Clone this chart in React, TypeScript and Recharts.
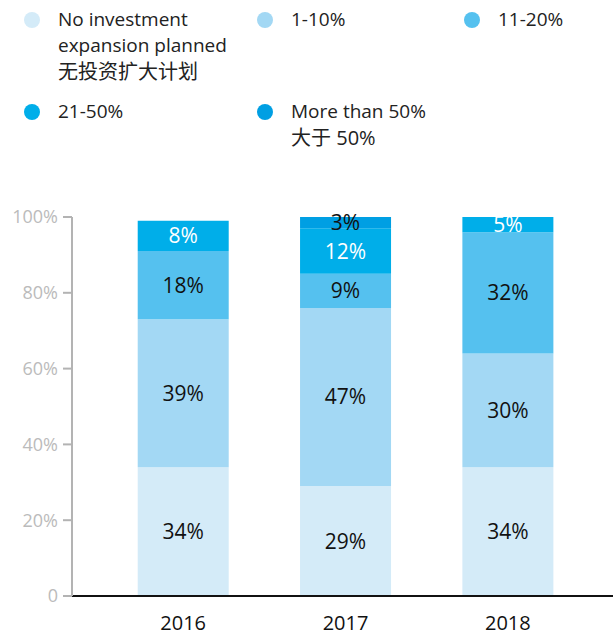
import { BarChart, Bar, XAxis, YAxis, LabelList } from "recharts";

const years = ["2016", "2017", "2018"];
const seriesKeys = ["none", "low", "mid", "high", "top"];
const seriesNames = [
  ["No investment", "expansion planned", "无投资扩大计划"],
  ["1-10%"],
  ["11-20%"],
  ["21-50%"],
  ["More than 50%", "大于 50%"],
];
const seriesColors = ["#d4ebf8", "#a3d8f4", "#55c1ef", "#00aee9", "#009fe3"];
const labelColors = ["#111", "#111", "#111", "#fff", "#111"];

const noneVals = [34, 29, 34];
const lowVals = [39, 47, 30];
const midVals = [18, 9, 32];
const highVals = [8, 12, 5];
const topVals = [0, 3, 0];

const yTicks = [0, 20, 40, 60, 80, 100];

const data = years.map((y, i) => ({
  year: y,
  none: noneVals[i],
  low: lowVals[i],
  mid: midVals[i],
  high: highVals[i],
  top: topVals[i],
}));

// legend slot positions (circle x, y)
const legendPos = [
  [32, 20],
  [265, 20],
  [472, 20],
  [32, 112],
  [265, 112],
];

const font = "'Open Sans', 'Noto Sans CJK SC', sans-serif";
const isCjk = (s: string) => /[\u4e00-\u9fff]/.test(s);

export default function App() {
  return (
    <div style={{ position: "absolute", left: 0, top: 0, width: 613, height: 637, fontFamily: font }}>
      {seriesNames.map((lines, i) => (
        <div key={i}>
          <div
            style={{
              position: "absolute",
              left: legendPos[i][0] - 8,
              top: legendPos[i][1] - 8,
              width: 16,
              height: 16,
              borderRadius: 8,
              background: seriesColors[i],
            }}
          />
          <div
            style={{
              position: "absolute",
              left: legendPos[i][0] + 26,
              top: legendPos[i][1] - 14,
              fontSize: 19,
              lineHeight: "27px",
              color: "#222",
              whiteSpace: "nowrap",
            }}
          >
            {lines.map((l, j) => (
              <div key={j} style={{ fontSize: isCjk(l) ? 20 : 19, height: j === 2 ? 28 : 26 }}>
                {l}
              </div>
            ))}
          </div>
        </div>
      ))}
      <div style={{ position: "absolute", left: 0, top: 0 }}>
        <BarChart
          width={613}
          height={637}
          data={data}
          margin={{ top: 217, right: 0, bottom: 0, left: 12 }}
          barCategoryGap="22%"
          style={{ overflow: "visible" }}
        >
          <XAxis
            dataKey="year"
            height={41}
            padding={{ left: 30, right: 24 }}
            axisLine={{ stroke: "#111", strokeWidth: 2 }}
            tickLine={false}
            tickMargin={14}
            tick={{ fill: "#111", fontSize: 20, fontFamily: font }}
          />
          <YAxis
            width={60}
            domain={[0, 100]}
            ticks={yTicks}
            allowDataOverflow
            tickFormatter={(v) => (v === 0 ? "0" : `${v}%`)}
            axisLine={{ stroke: "#b3b3b3", strokeWidth: 2 }}
            tickLine={{ stroke: "#b3b3b3", strokeWidth: 2 }}
            tickSize={9}
            tickMargin={5}
            tick={{ fill: "#bbb", fontSize: 18, fontFamily: font }}
          />
          {seriesKeys.map((k, i) => (
            <Bar key={k} dataKey={k} stackId="a" fill={seriesColors[i]} isAnimationActive={false}>
              <LabelList
                dataKey={k}
                position="center"
                fill={labelColors[i]}
                fontSize={21}
                fontFamily={font}
                formatter={(v: any) => (v ? `${v}%` : "")}
              />
            </Bar>
          ))}
        </BarChart>
      </div>
    </div>
  );
}
